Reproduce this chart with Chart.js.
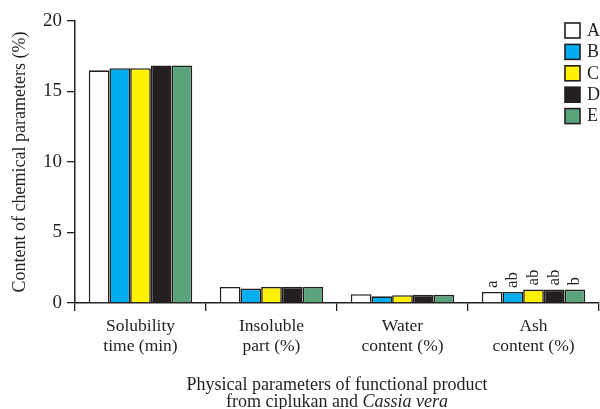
<!DOCTYPE html>
<html>
<head>
<meta charset="utf-8">
<script src="https://cdn.jsdelivr.net/npm/chart.js@4"></script>
<style>
  html, body { margin: 0; padding: 0; background: #fff; }
  #wrap { width: 600px; height: 409px; }
</style>
</head>
<body>
<div id="wrap"><canvas id="chart" width="600" height="409"></canvas></div>
<script>
// categories and series
const categories = [
  ['Solubility', 'time (min)'],
  ['Insoluble', 'part (%)'],
  ['Water', 'content (%)'],
  ['Ash', 'content (%)']
]
const seriesNames = ['A', 'B', 'C', 'D', 'E']
const seriesA = [16.5, 1.14, 0.62, 0.78]
const seriesB = [16.65, 1.02, 0.47, 0.78]
const seriesC = [16.65, 1.15, 0.55, 0.95]
const seriesD = [16.85, 1.15, 0.58, 0.95]
const seriesE = [16.85, 1.15, 0.58, 0.95]
const ashLetters = ['a', 'ab', 'ab', 'ab', 'b']
const yTicks = [0, 5, 10, 15, 20]

const colors = ['#ffffff', '#00aeef', '#fff200', '#231f20', '#5ba37a']
const ink = '#231f20'
const FONT = '"Liberation Serif", "Times New Roman", serif'

const allSeries = [seriesA, seriesB, seriesC, seriesD, seriesE]

// letters above the ash bars, written bottom-to-top
const letterPlugin = {
  id: 'letters',
  afterDatasetsDraw(chart) {
    const ctx = chart.ctx
    ctx.save()
    ctx.fillStyle = ink
    ctx.font = '17px ' + FONT
    ctx.textAlign = 'left'
    ctx.textBaseline = 'middle'
    ashLetters.forEach((txt, i) => {
      const bar = chart.getDatasetMeta(i).data[3]
      ctx.save()
      ctx.translate(bar.x, bar.y - 4)
      ctx.rotate(-Math.PI / 2)
      ctx.fillText(txt, 0, 0)
      ctx.restore()
    })
    ctx.restore()
  }
}

// boxed legend in the top right corner
const legendPlugin = {
  id: 'boxLegend',
  afterDraw(chart) {
    const ctx = chart.ctx
    ctx.save()
    ctx.font = '18px ' + FONT
    ctx.textBaseline = 'middle'
    ctx.textAlign = 'left'
    seriesNames.forEach((name, i) => {
      const y = 23 + i * 21.4
      ctx.fillStyle = colors[i]
      ctx.fillRect(565, y, 15, 15)
      ctx.strokeStyle = ink
      ctx.lineWidth = 1.6
      ctx.strokeRect(565, y, 15, 15)
      ctx.fillStyle = ink
      ctx.fillText(name, 587, y + 8)
    })
    ctx.restore()
  }
}

// two-line x title, second line partly italic
const xTitlePlugin = {
  id: 'xTitle',
  afterDraw(chart) {
    const ctx = chart.ctx
    const a = chart.chartArea
    const cx = (a.left + a.right) / 2
    ctx.save()
    ctx.fillStyle = ink
    ctx.textBaseline = 'alphabetic'
    ctx.font = '18px ' + FONT
    ctx.textAlign = 'center'
    ctx.fillText('Physical parameters of functional product', cx, 390)
    const p1 = 'from ciplukan and '
    const p2 = 'Cassia vera'
    ctx.font = '18px ' + FONT
    const w1 = ctx.measureText(p1).width
    ctx.font = 'italic 18px ' + FONT
    const w2 = ctx.measureText(p2).width
    const x0 = cx - (w1 + w2) / 2
    ctx.textAlign = 'left'
    ctx.font = '18px ' + FONT
    ctx.fillText(p1, x0, 407)
    ctx.font = 'italic 18px ' + FONT
    ctx.fillText(p2, x0 + w1, 407)
    ctx.restore()
  }
}

new Chart(document.getElementById('chart'), {
  type: 'bar',
  data: {
    labels: categories,
    datasets: seriesNames.map((name, i) => ({
      label: name,
      data: allSeries[i],
      backgroundColor: colors[i],
      borderColor: ink,
      borderWidth: 1.6,
      categoryPercentage: 0.79,
      barPercentage: 1
    }))
  },
  options: {
    responsive: false,
    animation: false,
    layout: { padding: { top: 21, right: 1, bottom: 0, left: 0 } },
    plugins: {
      legend: { display: false },
      tooltip: { enabled: false }
    },
    scales: {
      x: {
        afterFit(scale) { scale.height = 106 },
        grid: {
          display: true,
          drawOnChartArea: false,
          drawTicks: true,
          tickLength: 8,
          color: ink,
          lineWidth: 1.3
        },
        border: { display: true, color: ink, width: 1.5 },
        ticks: {
          color: ink,
          padding: 6,
          maxRotation: 0,
          font: { family: FONT, size: 17.5, lineHeight: 1.12 }
        }
      },
      y: {
        min: 0,
        max: 20,
        afterFit(scale) { scale.width = 75 },
        afterBuildTicks(scale) { scale.ticks = yTicks.map(v => ({ value: v })) },
        grid: {
          display: true,
          drawOnChartArea: false,
          drawTicks: true,
          tickLength: 8,
          color: ink,
          lineWidth: 1.3
        },
        border: { display: true, color: ink, width: 1.5 },
        ticks: {
          color: ink,
          padding: 5,
          font: { family: FONT, size: 19 }
        },
        title: {
          display: true,
          text: 'Content of chemical parameters (%)',
          color: ink,
          padding: { top: 9, bottom: 4 },
          font: { family: FONT, size: 18 }
        }
      }
    }
  },
  plugins: [letterPlugin, legendPlugin, xTitlePlugin]
})
</script>
</body>
</html>
